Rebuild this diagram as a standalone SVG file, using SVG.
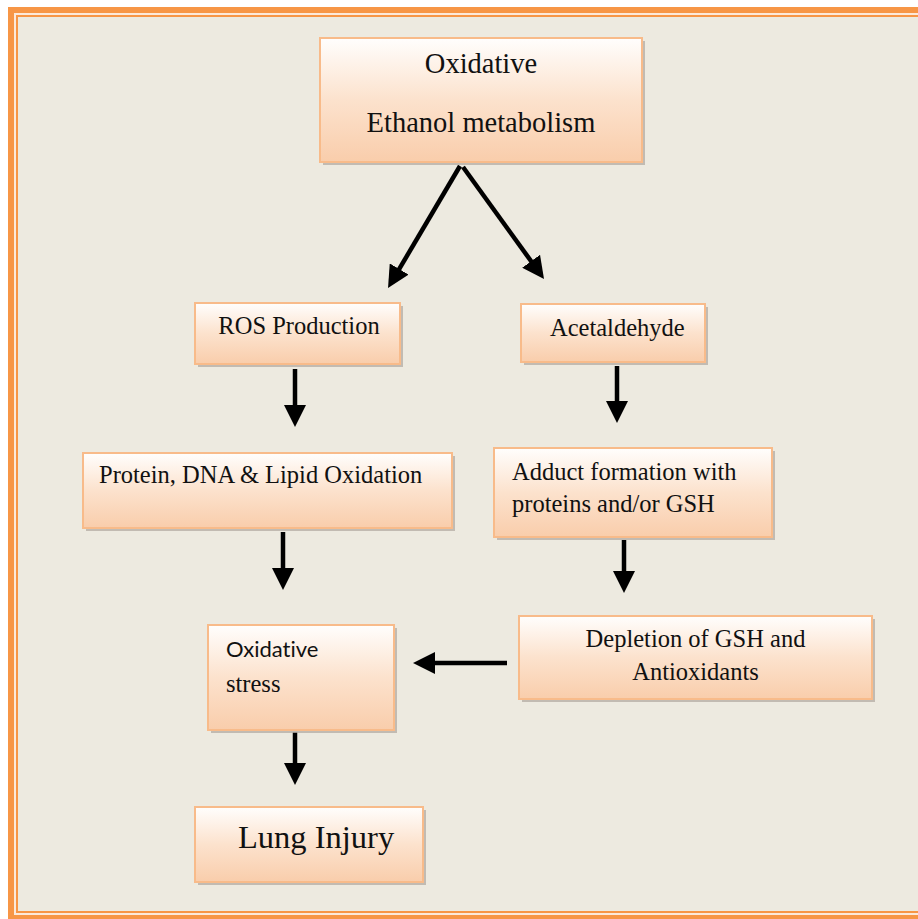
<svg xmlns="http://www.w3.org/2000/svg" width="918" height="919" viewBox="0 0 918 919">
<defs>
<linearGradient id="boxfill" x1="0" y1="0" x2="0" y2="1">
<stop offset="0" stop-color="#fffefd"/>
<stop offset="0.5" stop-color="#fce2cd"/>
<stop offset="1" stop-color="#f9cdab"/>
</linearGradient>
<marker id="ah" viewBox="0 0 22 22" refX="1" refY="11" markerWidth="22" markerHeight="22" markerUnits="userSpaceOnUse" orient="auto">
<path d="M0,0 L22,11 L0,22 z" fill="#000"/>
</marker>
</defs>
<style>
.shadow{fill:#b6afa6;opacity:0.8}
.box{fill:url(#boxfill);stroke:#f8bb8a;stroke-width:2}
.t{font-family:"Liberation Serif","Times New Roman",serif;font-size:24.5px;fill:#111}
.ts{font-family:Lato,"Liberation Sans",sans-serif;font-size:22px;fill:#111;font-variant-ligatures:none}
.conn{stroke:#000;stroke-width:4.5;fill:none;marker-end:url(#ah)}
</style>
<rect x="0" y="0" width="918" height="919" fill="#ffffff"/>
<rect x="11" y="10" width="930" height="908" fill="#fce9da" stroke="#f79646" stroke-width="6"/>
<rect x="17" y="16" width="930" height="896" fill="#edeae0" stroke="#f79646" stroke-width="2"/>

<g id="connectors">
<line class="conn" x1="460" y1="166" x2="398.7" y2="269.9"/>
<line class="conn" x1="463" y1="167" x2="531.7" y2="262"/>
<line class="conn" x1="295" y1="369" x2="295" y2="406"/>
<line class="conn" x1="617" y1="366" x2="617" y2="402"/>
<line class="conn" x1="283" y1="532" x2="283" y2="569"/>
<line class="conn" x1="624" y1="540" x2="624" y2="572"/>
<line class="conn" x1="507" y1="663" x2="434" y2="663"/>
<line class="conn" x1="295" y1="732" x2="295" y2="764"/>
</g>

<g id="node-ethanol">
<rect class="shadow" x="323" y="41" width="322" height="124"/>
<rect class="box" x="320" y="38" width="322" height="124"/>
<text class="t" x="481" y="73" text-anchor="middle" style="font-size:28.5px">Oxidative</text>
<text class="t" x="481" y="132" text-anchor="middle" style="font-size:28.5px">Ethanol metabolism</text>
</g>

<g id="node-ros">
<rect class="shadow" x="198" y="306" width="205" height="61"/>
<rect class="box" x="195" y="303" width="205" height="61"/>
<text class="t" x="299" y="334" text-anchor="middle">ROS Production</text>
</g>

<g id="node-acetaldehyde">
<rect class="shadow" x="524" y="307" width="184" height="58"/>
<rect class="box" x="521" y="304" width="184" height="58"/>
<text class="t" x="550" y="336">Acetaldehyde</text>
</g>

<g id="node-oxidation">
<rect class="shadow" x="86" y="456" width="369" height="75"/>
<rect class="box" x="83" y="453" width="369" height="75"/>
<text class="t" x="99" y="483">Protein, DNA &amp; Lipid Oxidation</text>
</g>

<g id="node-adduct">
<rect class="shadow" x="497" y="451" width="278" height="89"/>
<rect class="box" x="494" y="448" width="278" height="89"/>
<text class="t" x="512" y="480">Adduct formation with</text>
<text class="t" x="512" y="512">proteins and/or GSH</text>
</g>

<g id="node-depletion">
<rect class="shadow" x="522" y="619" width="353" height="83"/>
<rect class="box" x="519" y="616" width="353" height="83"/>
<text class="t" x="695.5" y="647" text-anchor="middle">Depletion of GSH and</text>
<text class="t" x="695.5" y="680" text-anchor="middle">Antioxidants</text>
</g>

<g id="node-stress">
<rect class="shadow" x="211" y="628" width="186" height="105"/>
<rect class="box" x="208" y="625" width="186" height="105"/>
<text class="ts" x="226" y="657">Oxidative</text>
<text class="t" x="226" y="692">stress</text>
</g>

<g id="node-lung">
<rect class="shadow" x="198" y="810" width="228" height="75"/>
<rect class="box" x="195" y="807" width="228" height="75"/>
<text class="t" x="238" y="848" style="font-size:32.5px">Lung Injury</text>
</g>
</svg>
